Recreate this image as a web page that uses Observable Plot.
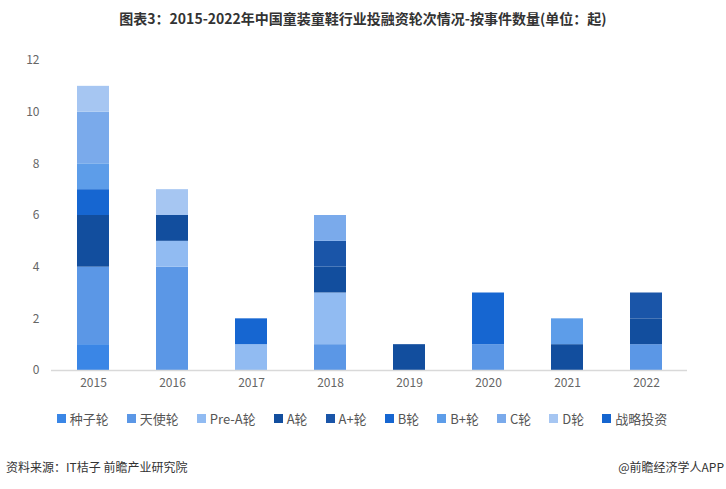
<!DOCTYPE html>
<html><head><meta charset="utf-8">
<script src="https://cdn.jsdelivr.net/npm/d3@7"></script>
<script src="https://cdn.jsdelivr.net/npm/@observablehq/plot@0.6"></script>
<style>
body{margin:0;background:#fff;font-family:"Noto Sans CJK SC","Noto Sans",sans-serif;width:726px;height:489px;position:relative;overflow:hidden}
#title{position:absolute;top:8px;left:0;width:726px;text-align:center;font-size:14px;font-weight:bold;color:#333}
#chart{position:absolute;top:40px;left:0}
#legend{position:absolute;top:409px;left:0;width:726px;display:flex;justify-content:center;gap:0;font-size:13px;color:#555}
#legend span.item{display:flex;align-items:center;margin:0 10px 0 8px}
#legend span.sw{display:inline-block;width:9px;height:9px;margin-right:4px}
#src{position:absolute;top:458px;left:6px;font-size:12px;color:#333}
#app{position:absolute;top:458px;right:2px;font-size:12px;color:#333}
</style></head><body>
<div id="title">图表3：2015-2022年中国童装童鞋行业投融资轮次情况-按事件数量(单位：起)</div>
<div id="chart"></div>
<div id="legend"></div>
<div id="src">资料来源：IT桔子 前瞻产业研究院</div>
<div id="app">@前瞻经济学人APP</div>
<script>
const years = ["2015","2016","2017","2018","2019","2020","2021","2022"];
const seriesNames = ["种子轮","天使轮","Pre-A轮","A轮","A+轮","B轮","B+轮","C轮","D轮","战略投资"];
const seriesColors = ["#3a86e6","#5b97e6","#91bbf2","#124e9e","#1a55a8","#1666d1","#5d9de9","#7aaaeb","#a6c6f2","#1565cf"];
const seed     = [1,0,0,0,0,0,0,0];
const angel    = [3,4,0,1,0,1,0,1];
const preA     = [0,1,1,2,0,0,0,0];
const roundA   = [2,1,0,1,1,0,1,1];
const roundAp  = [0,0,0,1,0,0,0,1];
const roundB   = [1,0,1,0,0,2,0,0];
const roundBp  = [1,0,0,0,0,0,1,0];
const roundC   = [2,0,0,1,0,0,0,0];
const roundD   = [1,1,0,0,0,0,0,0];
const strategic= [0,0,0,0,0,0,0,0];
const yTicks = [0,2,4,6,8,10,12];

const seriesValues = [seed,angel,preA,roundA,roundAp,roundB,roundBp,roundC,roundD,strategic];
const data = [];
seriesNames.forEach((s,i)=>years.forEach((y,j)=>{ if(seriesValues[i][j]>0) data.push({year:y, series:s, value:seriesValues[i][j]}); }));

const plot = Plot.plot({
  width:726, height:360,
  marginLeft:51, marginRight:39, marginTop:20, marginBottom:30,
  style:{fontFamily:'"Noto Sans CJK SC","Noto Sans",sans-serif', fontSize:"12px", color:"#666"},
  x:{domain:years, paddingInner:0.6, paddingOuter:0.3, label:null, tickSize:0, tickPadding:8},
  y:{domain:[0,12], ticks:yTicks, label:null, tickSize:0, tickPadding:12},
  color:{domain:seriesNames, range:seriesColors},
  marks:[
    Plot.barY(data, Plot.stackY({x:"year", y:"value", fill:"series", order:seriesNames})),
    Plot.ruleY([0],{stroke:"#d9d9d9", strokeWidth:1.5})
  ]
});
document.getElementById("chart").appendChild(plot);

const lg = document.getElementById("legend");
seriesNames.forEach((s,i)=>{
  const it=document.createElement("span"); it.className="item";
  const sw=document.createElement("span"); sw.className="sw"; sw.style.background=seriesColors[i];
  it.appendChild(sw); it.appendChild(document.createTextNode(s)); lg.appendChild(it);
});
</script>
</body></html>
